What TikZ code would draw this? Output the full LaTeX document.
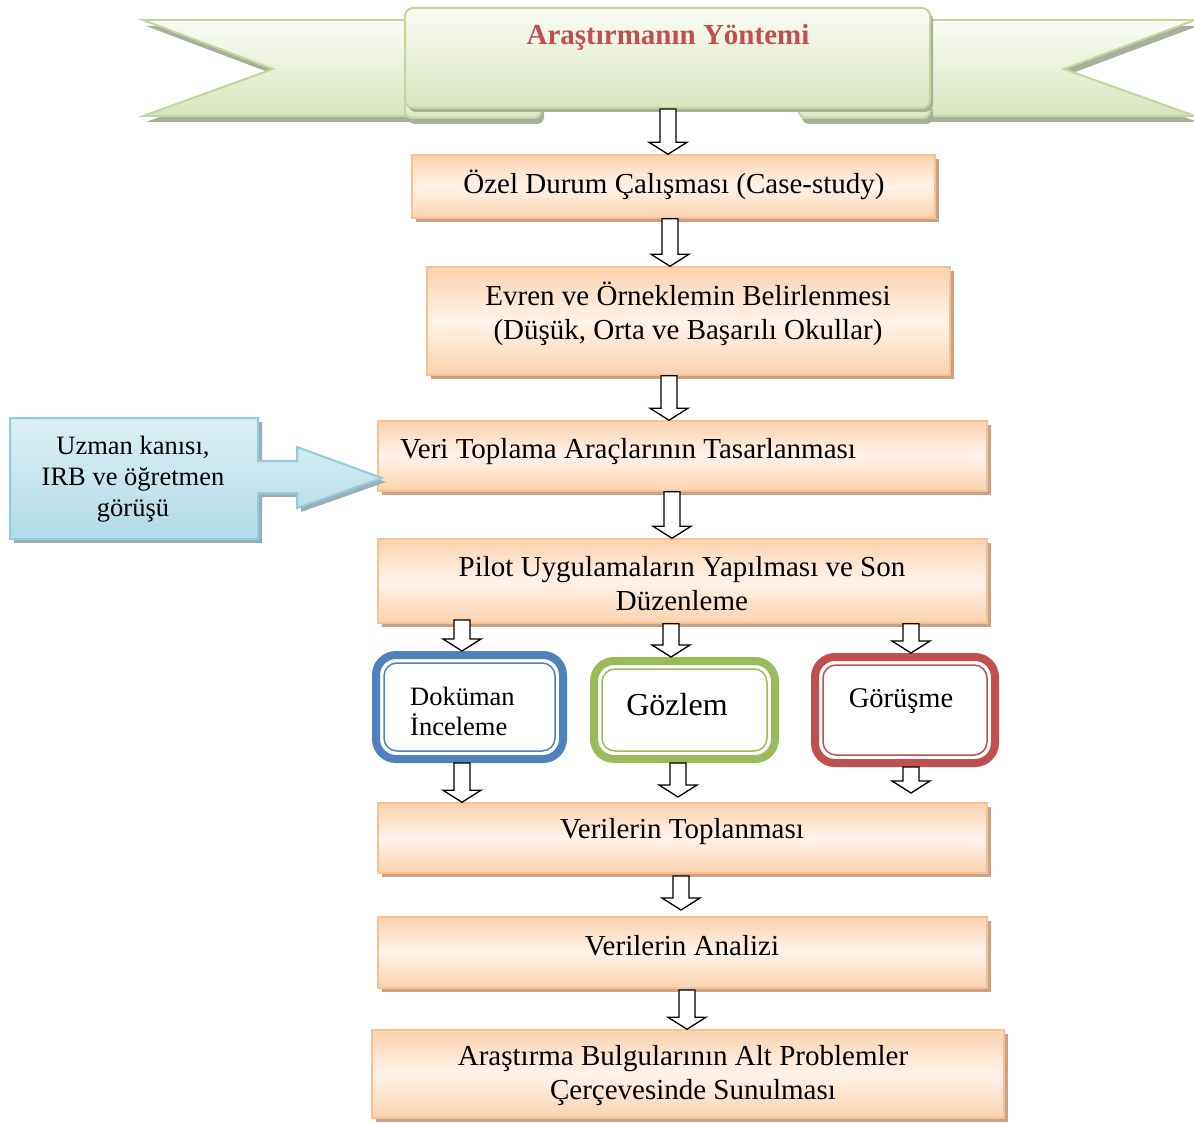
\documentclass[tikz,border=0pt]{standalone}
\usepackage{fontspec}
\setmainfont{Liberation Serif}
\usetikzlibrary{shadows,calc}
\definecolor{orBorder}{HTML}{FAC090}
\definecolor{orFill}{HTML}{FBD2AE}
\definecolor{orMid}{HTML}{FFF3EA}
\definecolor{orShadow}{HTML}{C9A286}
\definecolor{bnTop}{HTML}{FAFCF5}
\definecolor{bnBot}{HTML}{D8E4BF}
\definecolor{bnBorder}{HTML}{C3D69B}
\definecolor{bnShadow}{HTML}{A8AE9C}
\definecolor{titleRed}{HTML}{C0504D}
\definecolor{clTop}{HTML}{DDEFF5}
\definecolor{clBot}{HTML}{B3DBE6}
\definecolor{clBorder}{HTML}{93CDDD}
\definecolor{clShadow}{HTML}{9AAEB4}
\definecolor{cBlue}{HTML}{4F81BD}
\definecolor{cGreen}{HTML}{9BBB59}
\definecolor{cRed}{HTML}{C0504D}
\tikzset{
  obox/.style={draw=orBorder, line width=1.5pt, top color=orFill, bottom color=orFill, middle color=orMid, inner sep=0pt,
    drop shadow={shadow xshift=4pt, shadow yshift=-4pt, fill=orShadow, opacity=1}},
  otext/.style={inner sep=0pt, align=center, font=\fontsize{29}{34}\selectfont},
  barrowst/.style={draw=black, fill=white, line width=1.3pt, line join=miter},
  outerc/.style={line width=8pt, rounded corners=20pt, fill=white, inner sep=0pt},
  innerc/.style={line width=1.5pt, rounded corners=13pt, inner sep=0pt},
  gshade/.style={top color=bnTop, bottom color=bnBot, draw=bnBorder, line width=2pt},
  gshadow/.style={drop shadow={shadow xshift=3pt, shadow yshift=-6pt, fill=bnShadow, opacity=1}},
}
\newcommand\blkarrow[2]{\draw[barrowst] let \p1=#1, \p2=#2 in
  (\x1-8pt,\y1) -- (\x1+8pt,\y1) -- (\x1+8pt,\y2+12pt) -- (\x1+19pt,\y2+12pt) --
  (\x1,\y2) -- (\x1-19pt,\y2+12pt) -- (\x1-8pt,\y2+12pt) -- cycle;}
\begin{document}
\begin{tikzpicture}[x=1pt,y=-1pt]
\useasboundingbox (0,0) rectangle (1194,1123);

% ---- banner ----
\path[gshade, gshadow] (143,20) -- (430,20) -- (430,116) -- (143,116) -- (273,69) -- cycle;
\path[gshade, gshadow] (1195,20) -- (900,20) -- (900,116) -- (1195,116) -- (1064,69) -- cycle;
\path[gshade, gshadow, rounded corners=7pt] (405,99) rectangle (541,118);
\path[gshade, gshadow, rounded corners=7pt] (799,99) rectangle (930,118);
\node[gshade, rounded corners=8pt, minimum width=525pt, minimum height=100pt, inner sep=0pt,
  drop shadow={shadow xshift=3pt, shadow yshift=-4pt, fill=bnShadow, opacity=1}] (b0) at (667.5,58) {};
\node[inner sep=0pt, text=titleRed, font=\bfseries\fontsize{29}{34}\selectfont] (title) at (668,37) {Araştırmanın Yöntemi};

% ---- orange boxes ----
\node[obox, minimum width=523pt, minimum height=63pt] (b1) at (673.5,186.5) {};
\node[otext] (t1) at (674,185) {Özel Durum Çalışması (Case-study)};
\node[obox, minimum width=523pt, minimum height=108pt] (b2) at (688.5,321) {};
\node[otext] (t2) at (688,314) {Evren ve Örneklemin Belirlenmesi\\(Düşük, Orta ve Başarılı Okullar)};
\node[obox, minimum width=609pt, minimum height=70pt] (b3) at (682.5,456) {};
\node[otext, anchor=west] (t3) at (400,452) {Veri Toplama Araçlarının Tasarlanması};
\node[obox, minimum width=609pt, minimum height=84pt] (b4) at (682.5,581) {};
\node[otext] (t4) at (682,584) {Pilot Uygulamaların Yapılması ve Son\\Düzenleme};
\node[obox, minimum width=609pt, minimum height=70pt] (b5) at (682.5,838) {};
\node[otext] (t5) at (682,832) {Verilerin Toplanması};
\node[obox, minimum width=609pt, minimum height=71pt] (b6) at (682.5,952.5) {};
\node[otext] (t6) at (682,946) {Verilerin Analizi};
\node[obox, minimum width=632pt, minimum height=88pt] (b7) at (688,1074) {};
\node[otext] (t7) at (683,1076) {Araştırma Bulgularının Alt Problemler\\\hspace*{20pt}Çerçevesinde Sunulması};

% ---- callout ----
\path[top color=clTop, bottom color=clBot, draw=clBorder, line width=2pt,
  drop shadow={shadow xshift=4pt, shadow yshift=-4pt, fill=clShadow, opacity=1}]
  (10,418) -- (258,418) -- (258,461) -- (297,461) -- (297,447) -- (382,478) -- (297,508) --
  (297,493) -- (258,493) -- (258,539) -- (10,539) -- cycle;
\node[inner sep=0pt, align=center, font=\fontsize{26.5}{31}\selectfont] (co) at (133,479) {Uzman kanısı,\\IRB ve öğretmen\\görüşü};

% ---- coloured boxes ----
\node[outerc, draw=cBlue, minimum width=187pt, minimum height=104pt] (cb1) at (469.5,707) {};
\node[innerc, draw=cBlue, minimum width=171pt, minimum height=88pt] (ib1) at (469.5,707) {};
\node[inner sep=0pt, align=left, anchor=west, font=\fontsize{26.5}{30}\selectfont] (tc1) at (410,711) {Doküman\\İnceleme};

\node[outerc, draw=cGreen, minimum width=181pt, minimum height=98pt] (cb2) at (684.5,710) {};
\node[innerc, draw=cGreen, minimum width=165pt, minimum height=82pt] (ib2) at (684.5,710) {};
\node[inner sep=0pt, font=\fontsize{32}{36}\selectfont] (tc2) at (677,705) {Gözlem};

\node[outerc, draw=cRed, minimum width=180pt, minimum height=106pt] (cb3) at (905,710) {};
\node[innerc, draw=cRed, minimum width=164pt, minimum height=90pt] (ib3) at (905,710) {};
\node[inner sep=0pt, font=\fontsize{28.5}{32}\selectfont] (tc3) at (901,701) {Görüşme};

% ---- block arrows ----
\blkarrow{(668,0 |- b0.south)}{(668,0 |- b1.north)}
\blkarrow{(670,0 |- b1.south)}{(670,0 |- b2.north)}
\blkarrow{(669,0 |- b2.south)}{(669,0 |- b3.north)}
\blkarrow{(672,0 |- b3.south)}{(672,0 |- b4.north)}
\blkarrow{(462,620)}{(462,0 |- cb1.north)}
\blkarrow{(671,0 |- b4.south)}{(671,0 |- cb2.north)}
\blkarrow{(911,0 |- b4.south)}{(911,0 |- cb3.north)}
\blkarrow{(462,0 |- cb1.south)}{(462,0 |- b5.north)}
\blkarrow{(678,0 |- cb2.south)}{(678,797)}
\blkarrow{(911,0 |- cb3.south)}{(911,793)}
\blkarrow{(681,876)}{(681,910)}
\blkarrow{(687,990)}{(687,0 |- b7.north)}
\end{tikzpicture}
\end{document}
